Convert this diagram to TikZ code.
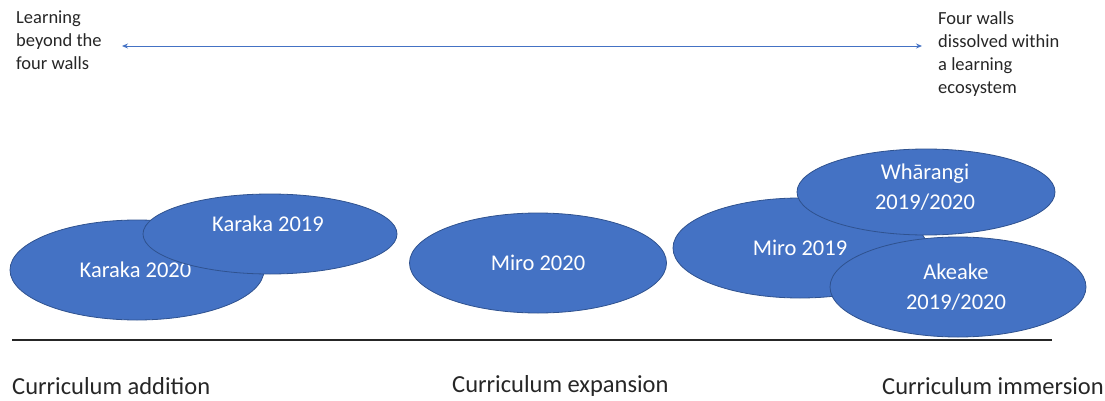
\documentclass[tikz,border=0pt]{standalone}
\usepackage{fontspec}
\setmainfont{Carlito}
\usetikzlibrary{arrows.meta,shapes.geometric}
\definecolor{blobfill}{HTML}{4472C4}
\definecolor{blobedge}{HTML}{2F528F}
\definecolor{arrowblue}{HTML}{4472C4}
\begin{document}
\begin{tikzpicture}[x=1pt,y=-1pt,
  blob/.style={ellipse, fill=blobfill, draw=blobedge, line width=0.8pt,
    inner sep=0pt, text=white, font=\fontsize{22.5}{30}\selectfont, align=center},
  blobtext/.style={text=white, font=\fontsize{22.5}{30}\selectfont, align=center, inner sep=0pt},
  note/.style={anchor=north west, inner sep=0pt, align=left,
    font=\fontsize{18.5}{23}\selectfont, text=black!85},
  stage/.style={anchor=west, inner sep=0pt, font=\fontsize{24.5}{26}\selectfont, text=black!85}]
\useasboundingbox (0,0) rectangle (1105,401);

% top notes and the double-headed arrow between them
\node[note] (left) at (16,11) {Learning\\beyond the\\four walls};
\node[note] (right) at (938,11) {Four walls\\dissolved within\\a learning\\ecosystem};
\coordinate (al) at (122,46);
\coordinate (ar) at (922,46);
\draw[arrowblue, line width=0.9pt, {Stealth[length=6pt,width=5pt]}-{Stealth[length=6pt,width=5pt]}] (al) -- (ar);

% ellipses
\path (137,270) node[blob, minimum width=254pt, minimum height=100pt] (k20) {};
\node[blobtext] at (135.5,270) (k20t) {Karaka 2020};
\path (270,234) node[blob, minimum width=254pt, minimum height=80pt] (k19) {};
\node[blobtext] at (268,224) (k19t) {Karaka 2019};

\path (538,263) node[blob, minimum width=257pt, minimum height=100pt] (m20) {Miro 2020};

\path (800,248) node[blob, minimum width=254pt, minimum height=100pt] (m19) {Miro 2019};
\path (926,192) node[blob, minimum width=258pt, minimum height=86pt] (wh) {};
\node[blobtext] at (925,187) (wht) {Whārangi\\2019/2020};
\path (958,287) node[blob, minimum width=256pt, minimum height=100pt] (ak) {};
\node[blobtext] at (956,287.5) (akt) {Akeake\\2019/2020};

% baseline
\coordinate (bl) at (12,340);
\coordinate (br) at (1052,340);
\draw[black!85, line width=1.3pt] (bl) -- (br);

% stage labels
\node[stage] (s1) at (12,386) {Curriculum addition};
\node[stage] (s2) at (452,386) {Curriculum expansion};
\node[stage] (s3) at (882,386) {Curriculum immersion};
\end{tikzpicture}
\end{document}
